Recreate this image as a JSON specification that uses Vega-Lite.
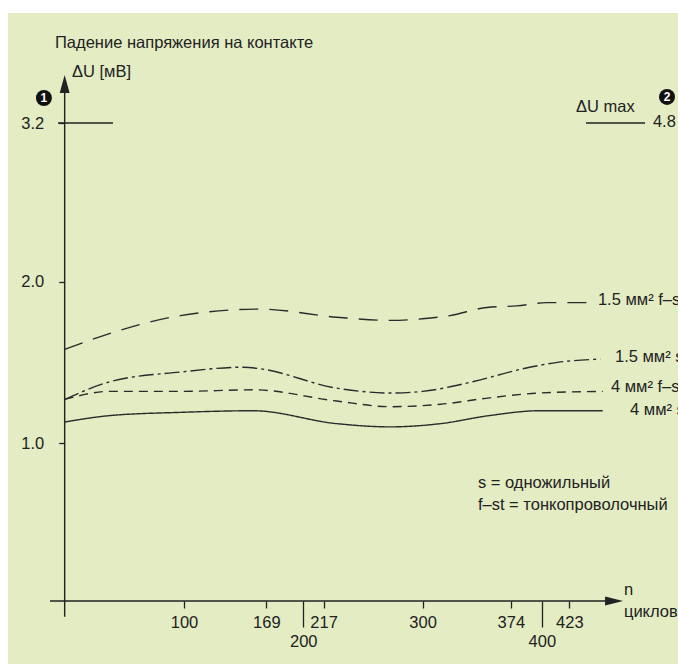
{
  "$schema": "https://vega.github.io/schema/vega-lite/v6.json",
  "width": 670,
  "height": 651,
  "autosize": {"type": "none"},
  "padding": {"left": 8, "top": 13, "right": 0, "bottom": 0},
  "background": "#ffffff",
  "config": {
    "view": {"fill": "#e3ecc3", "stroke": null},
    "font": "Liberation Sans",
    "text": {"font": "Liberation Sans", "fontSize": 16.5, "color": "#222222"}
  },
  "datasets": {
    "curves": [
      {"series": "1.5 f-st", "n": 0, "v": 1.58},
      {"series": "1.5 f-st", "n": 30, "v": 1.66},
      {"series": "1.5 f-st", "n": 97, "v": 1.79},
      {"series": "1.5 f-st", "n": 164, "v": 1.83},
      {"series": "1.5 f-st", "n": 228, "v": 1.78},
      {"series": "1.5 f-st", "n": 273, "v": 1.76},
      {"series": "1.5 f-st", "n": 300, "v": 1.77},
      {"series": "1.5 f-st", "n": 323, "v": 1.79},
      {"series": "1.5 f-st", "n": 354, "v": 1.84},
      {"series": "1.5 f-st", "n": 379, "v": 1.85},
      {"series": "1.5 f-st", "n": 404, "v": 1.87},
      {"series": "1.5 f-st", "n": 440, "v": 1.87},
      {"series": "1.5 s", "n": 0, "v": 1.27},
      {"series": "1.5 s", "n": 38, "v": 1.38},
      {"series": "1.5 s", "n": 97, "v": 1.44},
      {"series": "1.5 s", "n": 150, "v": 1.47},
      {"series": "1.5 s", "n": 164, "v": 1.46},
      {"series": "1.5 s", "n": 228, "v": 1.34},
      {"series": "1.5 s", "n": 273, "v": 1.31},
      {"series": "1.5 s", "n": 300, "v": 1.32},
      {"series": "1.5 s", "n": 342, "v": 1.38},
      {"series": "1.5 s", "n": 384, "v": 1.46},
      {"series": "1.5 s", "n": 413, "v": 1.5},
      {"series": "1.5 s", "n": 449, "v": 1.52},
      {"series": "4 f-st", "n": 0, "v": 1.27},
      {"series": "4 f-st", "n": 38, "v": 1.32},
      {"series": "4 f-st", "n": 97, "v": 1.32},
      {"series": "4 f-st", "n": 158, "v": 1.33},
      {"series": "4 f-st", "n": 228, "v": 1.26},
      {"series": "4 f-st", "n": 273, "v": 1.225},
      {"series": "4 f-st", "n": 315, "v": 1.24},
      {"series": "4 f-st", "n": 356, "v": 1.28},
      {"series": "4 f-st", "n": 398, "v": 1.31},
      {"series": "4 f-st", "n": 451, "v": 1.32},
      {"series": "4 s", "n": 0, "v": 1.13},
      {"series": "4 s", "n": 38, "v": 1.17},
      {"series": "4 s", "n": 97, "v": 1.19},
      {"series": "4 s", "n": 158, "v": 1.2},
      {"series": "4 s", "n": 228, "v": 1.12},
      {"series": "4 s", "n": 273, "v": 1.1},
      {"series": "4 s", "n": 315, "v": 1.12},
      {"series": "4 s", "n": 356, "v": 1.17},
      {"series": "4 s", "n": 398, "v": 1.2},
      {"series": "4 s", "n": 451, "v": 1.2}
    ],
    "hrules": [
      {"n": -12.3, "n2": 457, "v": 0},
      {"n": -5.6, "n2": 40.5, "v": 3.2},
      {"n": 437, "n2": 486.5, "v": 3.2}
    ],
    "vrules": [
      {"n": 0, "v": -0.1, "v2": 3.45}
    ],
    "uparrow": [{"n": 0, "v": 3.495}],
    "rightarrow": [{"n": 460.5, "v": 0}],
    "badges": [
      {"n": -17.4, "v": 3.389, "label": "1"},
      {"n": 504.9, "v": 3.397, "label": "2"}
    ],
    "texts": [
      {"n": -8.1, "v": 3.805, "label": "Падение напряжения на контакте"},
      {"n": 6.1, "v": 3.586, "label": "ΔU [мВ]"},
      {"n": 428.6, "v": 3.321, "label": "ΔU max"},
      {"n": 493.1, "v": 3.21, "label": "4.8"},
      {"n": 346.4, "v": 0.747, "label": "s = одножильный"},
      {"n": 346.4, "v": 0.608, "label": "f–st = тонкопроволочный"},
      {"n": 468.8, "v": 0.07, "label": "n"},
      {"n": 468.8, "v": -0.07, "label": "циклов"},
      {"n": 447, "v": 1.887, "label": "1.5 мм² f–st"},
      {"n": 461.3, "v": 1.533, "label": "1.5 мм² s"},
      {"n": 457.9, "v": 1.347, "label": "4 мм² f–st"},
      {"n": 473.9, "v": 1.205, "label": "4 мм² s"}
    ]
  },
  "encoding": {
    "x": {
      "field": "n",
      "type": "quantitative",
      "scale": {"domain": [-47.5, 514.1], "nice": false, "zero": false},
      "axis": {
        "values": [100, 169, 200, 217, 300, 374, 400, 423],
        "orient": "bottom",
        "offset": -63,
        "domain": false,
        "grid": false,
        "title": null,
        "tickColor": "#222222",
        "tickWidth": 1.3,
        "tickSize": {"condition": {"test": "datum.value===200||datum.value===400", "value": 26}, "value": 7},
        "labelPadding": 6,
        "labelFont": "Liberation Sans",
        "labelFontSize": 16.5,
        "labelColor": "#222222",
        "labelFlush": false,
        "labelOverlap": false,
        "encode": {"labels": {"update": {"dy": {"signal": "datum.value===200||datum.value===400?20:0"}}}}
      }
    },
    "y": {
      "field": "v",
      "type": "quantitative",
      "scale": {"domain": [0, 1, 2, 3.2], "range": [588, 430, 268.7, 110], "nice": false, "zero": false},
      "axis": {
        "values": [1, 2, 3.2],
        "orient": "left",
        "offset": -56.7,
        "domain": false,
        "grid": false,
        "title": null,
        "format": ".1f",
        "tickSize": 6,
        "tickColor": "#222222",
        "tickWidth": 1.3,
        "labelPadding": 15,
        "labelFont": "Liberation Sans",
        "labelFontSize": 16.5,
        "labelColor": "#222222",
        "labelFlush": false,
        "labelOverlap": false
      }
    }
  },
  "layer": [
    {
      "data": {"name": "hrules"},
      "mark": {"type": "rule", "color": "#222222", "strokeWidth": 1.4},
      "encoding": {"x2": {"field": "n2"}}
    },
    {
      "data": {"name": "vrules"},
      "mark": {"type": "rule", "color": "#222222", "strokeWidth": 1.4},
      "encoding": {"y2": {"field": "v2"}}
    },
    {
      "data": {"name": "uparrow"},
      "mark": {"type": "point", "shape": "M0,-1L0.55,1L-0.55,1Z", "size": 324, "filled": true, "color": "#222222", "opacity": 1},
      "encoding": {}
    },
    {
      "data": {"name": "rightarrow"},
      "mark": {"type": "point", "shape": "M1,0L-1,0.5L-1,-0.5Z", "size": 324, "filled": true, "color": "#222222", "opacity": 1},
      "encoding": {}
    },
    {
      "data": {"name": "curves"},
      "mark": {"type": "line", "interpolate": "monotone", "color": "#2b2b2b", "strokeWidth": 1.4},
      "encoding": {
        "detail": {"field": "series", "type": "nominal"},
        "strokeDash": {
          "field": "series",
          "type": "nominal",
          "scale": {"domain": ["1.5 f-st", "1.5 s", "4 f-st", "4 s"], "range": [[19, 11], [15, 4, 3, 4], [9, 6], [1, 0]]},
          "legend": null
        }
      }
    },
    {
      "data": {"name": "badges"},
      "mark": {"type": "point", "shape": "circle", "size": 256, "filled": true, "color": "#111111", "opacity": 1},
      "encoding": {}
    },
    {
      "data": {"name": "badges"},
      "mark": {"type": "text", "color": "#ffffff", "fontWeight": "bold", "fontSize": 12, "align": "center", "baseline": "middle"},
      "encoding": {"text": {"field": "label"}}
    },
    {
      "data": {"name": "texts"},
      "mark": {"type": "text", "align": "left", "baseline": "middle", "fontSize": 16.5, "color": "#222222"},
      "encoding": {"text": {"field": "label"}}
    }
  ]
}
